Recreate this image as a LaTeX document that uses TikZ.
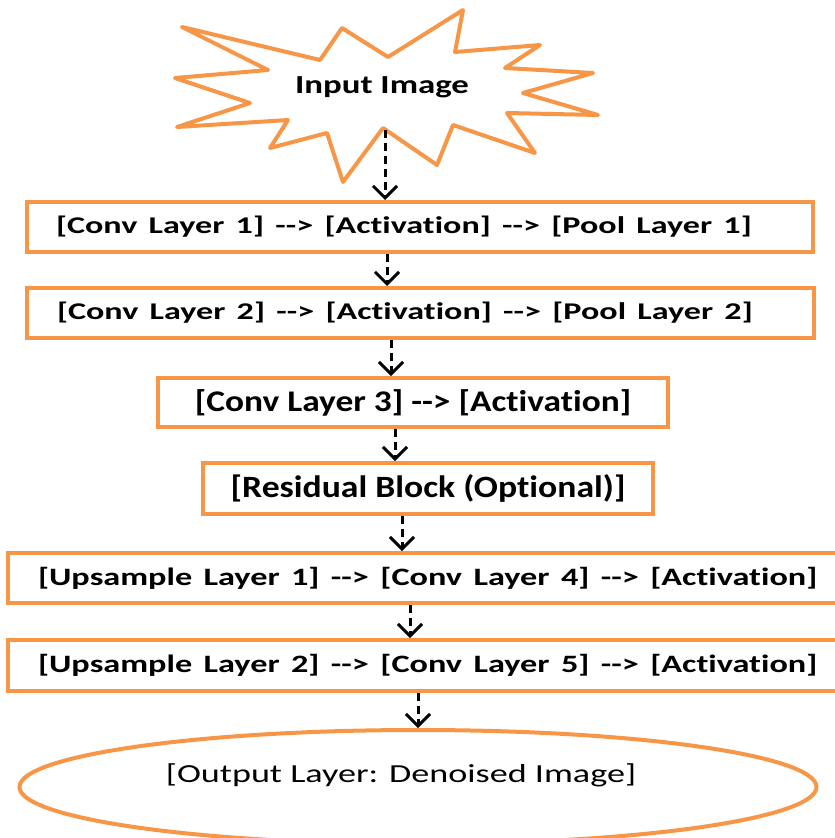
\documentclass[tikz,border=0pt]{standalone}
\usepackage{fontspec}
\setmainfont{Carlito}[Ligatures={NoCommon}]
\usepackage{graphicx}
\usepackage{xcolor}
\usetikzlibrary{positioning}
\usetikzlibrary{shapes.geometric}
\usetikzlibrary{arrows.meta}
\definecolor{boxorange}{RGB}{247,150,70}
\newcommand{\flowto}{-{}-{}>}
\newcommand{\widen}[2]{\scalebox{#1}[1]{#2}}
\tikzset{
    layer/.style={draw=boxorange, line width=4pt, rectangle, inner sep=0pt,
        minimum height=50pt, font=\bfseries\fontsize{24}{28}\selectfont},
    flow/.style={black, line width=3pt, dash pattern=on 8pt off 5pt,
        -{Straight Barb[length=12pt, width=24pt, line width=3pt]}}
}

\begin{document}
\begin{tikzpicture}[x=1pt, y=-1pt]
    \useasboundingbox (0,0) rectangle (835,838);

    % Input starburst
    \draw[boxorange, line width=4pt, line join=round]
        (182,27) -- (320,60) -- (342,28) -- (388,57) -- (463,10) -- (455,52)
        -- (540,45) -- (505,68) -- (593,73) -- (523,93) -- (598,115)
        -- (507,113) -- (535,153) -- (453,125) -- (437,165) -- (383,128)
        -- (343,182) -- (327,133) -- (270,148) -- (288,120) -- (177,127)
        -- (250,103) -- (175,78) -- (268,70) -- cycle;
    \node[font=\bfseries\fontsize{26}{30}\selectfont] (input) at (382,87) {\widen{1.34}{Input Image}};
    \coordinate (tip) at (385,130);

    % Encoder layers
    \node[layer, minimum width=786pt, text width=728pt, align=left]
        (b1) at (420,227) {\widen{1.42}{[Conv Layer 1] \flowto{} [Activation] \flowto{} [Pool Layer 1]}};
    \node[layer, minimum width=787pt, text width=727pt, align=left]
        (b2) at (420.5,313) {\widen{1.42}{[Conv Layer 2] \flowto{} [Activation] \flowto{} [Pool Layer 2]}};
    \node[layer, minimum width=510pt, minimum height=49pt, font=\bfseries\fontsize{30}{34}\selectfont]
        (b3) at (413,402.5) {\widen{1.18}{[Conv Layer 3] \flowto{} [Activation]}};
    \node[layer, minimum width=450pt, minimum height=51pt, font=\bfseries\fontsize{31}{35}\selectfont]
        (b4) at (428,488.5) {\widen{1.15}{[Residual Block (Optional)]}};

    % Decoder layers
    \node[layer, minimum width=837pt, text width=777pt, align=left, font=\bfseries\fontsize{25}{29}\selectfont]
        (b5) at (426.5,578) {\widen{1.37}{[Upsample Layer 1] \flowto{} [Conv Layer 4] \flowto{} [Activation]}};
    \node[layer, minimum width=837pt, minimum height=51pt, text width=777pt, align=left, font=\bfseries\fontsize{25}{29}\selectfont]
        (b6) at (426.5,665.5) {\widen{1.37}{[Upsample Layer 2] \flowto{} [Conv Layer 5] \flowto{} [Activation]}};

    % Output
    \node[draw=boxorange, line width=4pt, ellipse, inner sep=0pt,
        minimum width=797pt, minimum height=114pt, font=\fontsize{26}{30}\selectfont]
        (out) at (418,787) {\raisebox{12pt}[\height][\depth]{\hspace*{-34pt}\widen{1.39}{[Output Layer: Denoised Image]}}};

    % Connectors
    \draw[flow] (tip) -- (tip |- b1.north);
    \foreach \a/\b/\x in {b1/b2/387, b2/b3/391, b3/b4/395, b4/b5/402, b5/b6/410, b6/out/418}
        \draw[flow] (\a.south -| \x,0) -- (\b.north -| \x,0);
\end{tikzpicture}
\end{document}
